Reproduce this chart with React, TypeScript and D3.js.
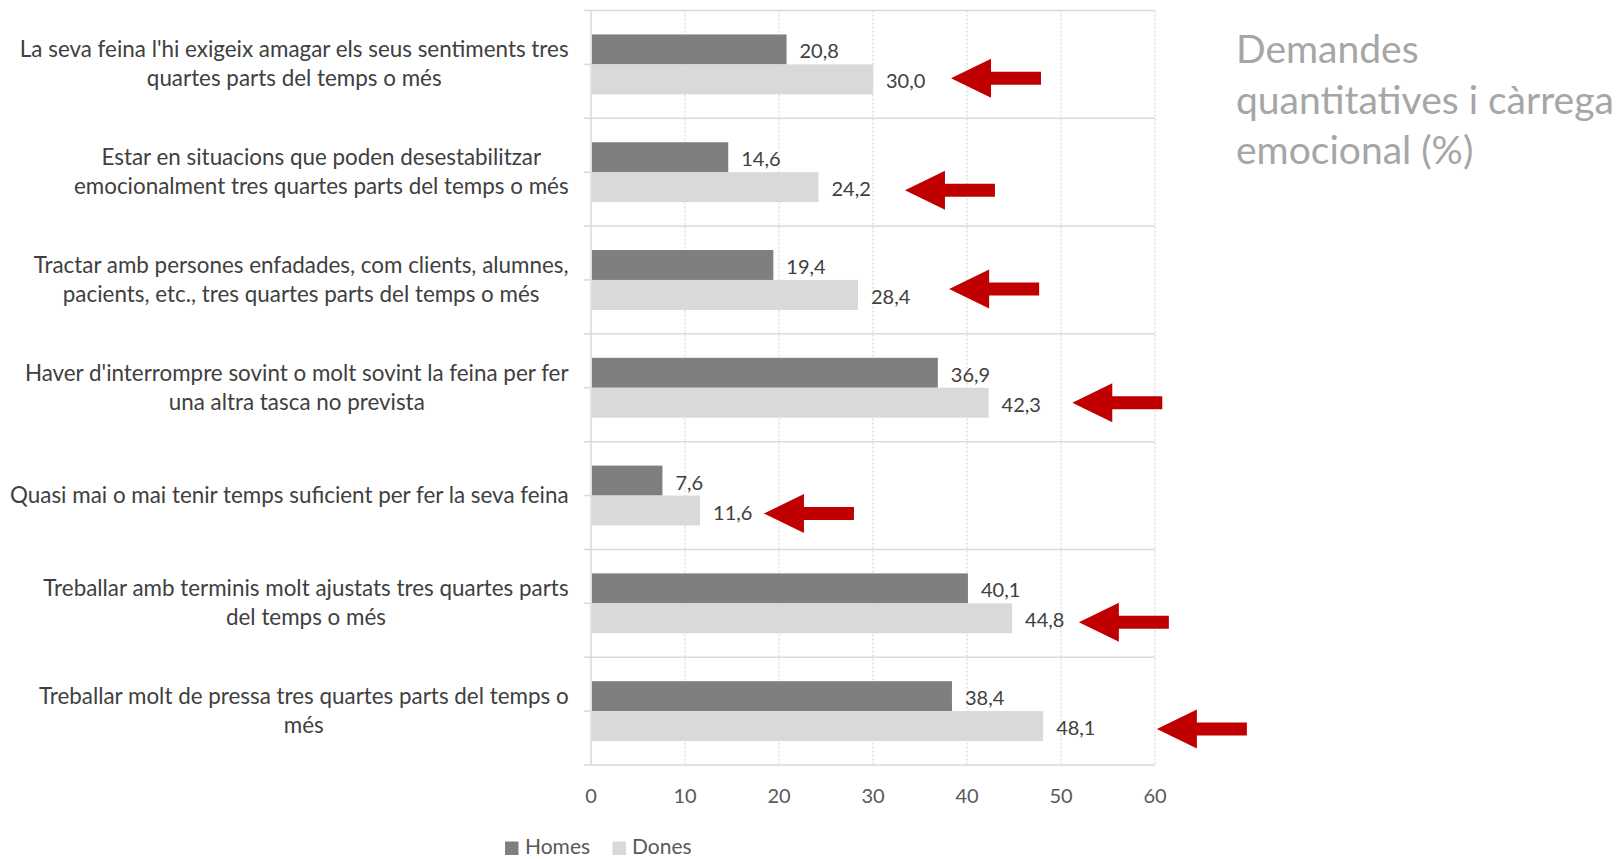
import React, { useEffect, useRef } from "react";
import * as d3 from "d3";

// Survey items (each entry holds the wrapped lines of one category label)
const categories: string[][] = [
  ["La seva feina l'hi exigeix amagar els seus sentiments tres", "quartes parts del temps o més"],
  ["Estar en situacions que poden desestabilitzar", "emocionalment tres quartes parts del temps o més"],
  ["Tractar amb persones enfadades, com clients, alumnes,", "pacients, etc., tres quartes parts del temps o més"],
  ["Haver d'interrompre sovint o molt sovint la feina per fer", "una altra tasca no prevista"],
  ["Quasi mai o mai tenir temps suficient per fer la seva feina"],
  ["Treballar amb terminis molt ajustats tres quartes parts", "del temps o més"],
  ["Treballar molt de pressa tres quartes parts del temps o", "més"],
];

const seriesNames = ["Homes", "Dones"];
const homes = [20.8, 14.6, 19.4, 36.9, 7.6, 40.1, 38.4];
const dones = [30.0, 24.2, 28.4, 42.3, 11.6, 44.8, 48.1];
const xTicks = [0, 10, 20, 30, 40, 50, 60];
const titleLines = ["Demandes", "quantitatives i càrrega", "emocional (%)"];

// Highlight arrows: tip position on the value axis and a small vertical nudge
const arrowTips = [38.3, 33.4, 38.1, 51.2, 18.4, 51.9, 60.2];
const arrowNudge = [-1, 3, -6, 0, 3, 4, 3];

const W = 1621;
const H = 859;
const FONT = "Lato, 'Open Sans', 'DejaVu Sans', sans-serif";
const colors = ["#7f7f7f", "#d9d9d9"];
const GRID = "#d9d9d9";

export default function App() {
  const ref = useRef<SVGSVGElement | null>(null);

  useEffect(() => {
    document.body.style.margin = "0";
    const svg = d3.select(ref.current);
    svg.selectAll("*").remove();

    const plotLeft = 591;
    const plotRight = 1155;
    const plotTop = 10.5;
    const plotBottom = 765;

    const x = d3.scaleLinear().domain([0, 60]).range([plotLeft, plotRight]);
    const y = d3
      .scaleBand<number>()
      .domain(d3.range(categories.length))
      .range([plotTop, plotBottom]);
    const inner = d3
      .scaleBand<string>()
      .domain(seriesNames)
      .range([0, y.bandwidth()])
      .paddingInner(0)
      .paddingOuter(0.8);

    const g = svg.append("g");

    // vertical dotted gridlines
    g.selectAll("line.vgrid")
      .data(xTicks.filter((t) => t > 0))
      .join("line")
      .attr("x1", (d) => x(d))
      .attr("x2", (d) => x(d))
      .attr("y1", plotTop)
      .attr("y2", plotBottom)
      .attr("stroke", GRID)
      .attr("stroke-width", 1.3)
      .attr("stroke-dasharray", "2,2");

    // horizontal separators between categories
    const bounds = d3.range(categories.length + 1).map((i) =>
      i < categories.length ? (y(i) as number) : plotBottom
    );
    g.selectAll("line.hgrid")
      .data(bounds)
      .join("line")
      .attr("x1", plotLeft - 7)
      .attr("x2", plotRight)
      .attr("y1", (d) => d)
      .attr("y2", (d) => d)
      .attr("stroke", GRID)
      .attr("stroke-width", 1.5);

    // category axis line and center ticks
    g.append("line")
      .attr("x1", plotLeft)
      .attr("x2", plotLeft)
      .attr("y1", plotTop)
      .attr("y2", plotBottom)
      .attr("stroke", GRID)
      .attr("stroke-width", 1.5);
    g.selectAll("line.ctick")
      .data(d3.range(categories.length))
      .join("line")
      .attr("x1", plotLeft - 7)
      .attr("x2", plotLeft)
      .attr("y1", (i) => (y(i) as number) + y.bandwidth() / 2)
      .attr("y2", (i) => (y(i) as number) + y.bandwidth() / 2)
      .attr("stroke", GRID)
      .attr("stroke-width", 1.5);

    // bars and value labels
    const series = [homes, dones];
    series.forEach((vals, s) => {
      const name = seriesNames[s];
      g.selectAll(`rect.s${s}`)
        .data(vals)
        .join("rect")
        .attr("x", x(0) + 1)
        .attr("y", (_, i) => (y(i) as number) + (inner(name) as number))
        .attr("width", (d) => x(d) - x(0) - 1)
        .attr("height", inner.bandwidth())
        .attr("fill", colors[s]);
      g.selectAll(`text.s${s}`)
        .data(vals)
        .join("text")
        .attr("x", (d) => x(d) + 13)
        .attr("y", (_, i) => (y(i) as number) + (inner(name) as number) + inner.bandwidth() / 2 + 1)
        .attr("dominant-baseline", "central")
        .attr("font-family", FONT)
        .attr("font-size", 20)
        .attr("fill", "#404040")
        .text((d) => d3.format(".1f")(d).replace(".", ","));
    });

    // value axis tick labels
    g.selectAll("text.xtick")
      .data(xTicks)
      .join("text")
      .attr("x", (d) => x(d))
      .attr("y", 795)
      .attr("text-anchor", "middle")
      .attr("dominant-baseline", "central")
      .attr("font-family", FONT)
      .attr("font-size", 20)
      .attr("fill", "#595959")
      .text((d) => String(d));

    // category labels: block right-aligned, lines centered within the block
    const labelRight = 568.6;
    const lineH = 28.9;
    categories.forEach((lines, i) => {
      const cy = (y(i) as number) + y.bandwidth() / 2 - 1;
      const t = g
        .append("text")
        .attr("font-family", FONT)
        .attr("font-size", 22.4)
        .attr("fill", "#404040")
        .attr("text-anchor", "middle");
      const spans = lines.map((ln, k) =>
        t
          .append("tspan")
          .attr("y", cy + (k - (lines.length - 1) / 2) * lineH)
          .attr("dominant-baseline", "central")
          .text(ln)
      );
      const widths = spans.map((sp) => (sp.node() as SVGTSpanElement).getComputedTextLength());
      const cx = labelRight - (d3.max(widths) as number) / 2;
      spans.forEach((sp) => sp.attr("x", cx));
    });

    // highlight arrows pointing at the Dones bars
    const arrowPath = (tx: number, ty: number) => {
      const p = d3.path();
      p.moveTo(tx, ty);
      p.lineTo(tx + 40, ty - 19.5);
      p.lineTo(tx + 40, ty - 6.5);
      p.lineTo(tx + 90, ty - 6.5);
      p.lineTo(tx + 90, ty + 6.5);
      p.lineTo(tx + 40, ty + 6.5);
      p.lineTo(tx + 40, ty + 19.5);
      p.closePath();
      return p.toString();
    };
    g.selectAll("path.arrow")
      .data(arrowTips)
      .join("path")
      .attr("d", (d, i) =>
        arrowPath(
          x(d),
          (y(i) as number) + (inner("Dones") as number) + inner.bandwidth() / 2 + arrowNudge[i]
        )
      )
      .attr("fill", "#c00000");

    // title
    const title = svg
      .append("text")
      .attr("font-family", FONT)
      .attr("font-size", 39)
      .attr("fill", "#a6a6a6");
    titleLines.forEach((ln, k) => {
      title.append("tspan").attr("x", 1236).attr("y", 63 + k * 50.5).text(ln);
    });

    // legend
    const legend = svg.append("g");
    const legendItems = [
      { name: seriesNames[0], sx: 505, tx: 525, color: colors[0] },
      { name: seriesNames[1], sx: 612.5, tx: 632, color: colors[1] },
    ];
    legendItems.forEach((it) => {
      legend
        .append("rect")
        .attr("x", it.sx)
        .attr("y", 841.5)
        .attr("width", 13.5)
        .attr("height", 13.5)
        .attr("fill", it.color);
      legend
        .append("text")
        .attr("x", it.tx)
        .attr("y", 854)
        .attr("font-family", FONT)
        .attr("font-size", 21)
        .attr("fill", "#595959")
        .text(it.name);
    });
  }, []);

  return <svg ref={ref} width={W} height={H} style={{ display: "block", background: "#fff" }} />;
}
